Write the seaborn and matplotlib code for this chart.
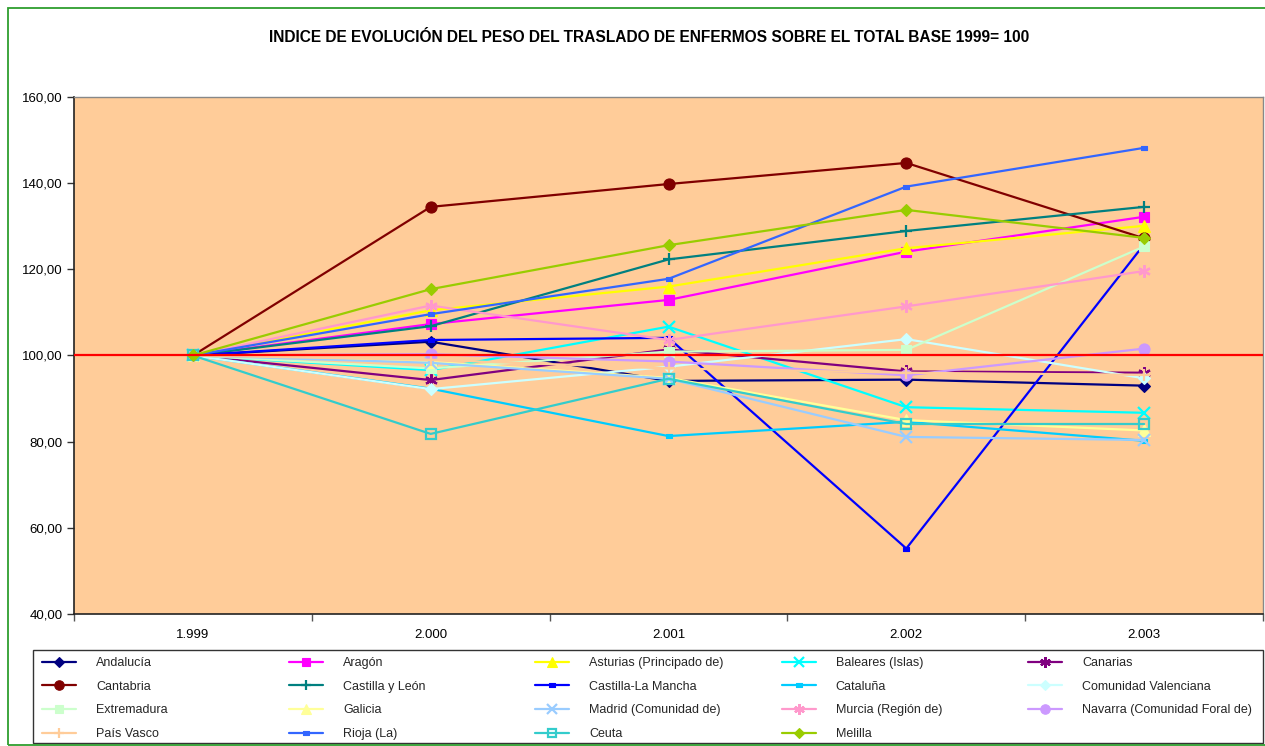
import numpy as np
import pandas as pd
import matplotlib
matplotlib.use("Agg")
import matplotlib.pyplot as plt
import seaborn as sns
from matplotlib.ticker import FixedLocator, FuncFormatter
from matplotlib.lines import Line2D
from matplotlib.patches import Rectangle

# ---------------- data ----------------
years = ["1.999", "2.000", "2.001", "2.002", "2.003"]

andalucia = [100, 103.2, 94.1, 94.4, 93.0]
aragon = [100, 107.3, 112.9, 124.1, 132.2]
asturias = [100, 110.5, 116.0, 124.9, 130.1]
baleares = [100, 96.6, 106.7, 88.0, 86.7]
canarias = [100, 94.3, 101.4, 96.3, 96.0]
cantabria = [100, 134.5, 139.8, 144.7, 127.2]
castilla_leon = [100, 106.8, 122.3, 128.9, 134.5]
castilla_mancha = [100, 103.6, 104.1, 55.2, 125.8]
cataluna = [100, 92.3, 81.3, 84.6, 80.2]
valenciana = [100, 92.2, 97.4, 103.8, 94.7]
extremadura = [100, 97.0, 100.9, 101.3, 125.3]
galicia = [100, 98.5, 94.8, 85.0, 82.6]
madrid = [100, 98.3, 94.6, 81.1, 80.4]
murcia = [100, 111.6, 103.6, 111.4, 119.6]
navarra = [100, 100.3, 98.6, 95.4, 101.6]
pais_vasco = [100, 99.0, 97.0, 96.0, 95.5]
rioja = [100, 109.6, 117.8, 139.2, 148.2]
ceuta = [100, 81.8, 94.6, 84.1, 84.1]
melilla = [100, 115.4, 125.6, 133.8, 127.3]

regions = ["Andalucía", "Aragón", "Asturias (Principado de)", "Baleares (Islas)", "Canarias",
           "Cantabria", "Castilla y León", "Castilla-La Mancha", "Cataluña", "Comunidad Valenciana",
           "Extremadura", "Galicia", "Madrid (Comunidad de)", "Murcia (Región de)",
           "Navarra (Comunidad Foral de)", "País Vasco", "Rioja (La)", "Ceuta", "Melilla"]
values = [andalucia, aragon, asturias, baleares, canarias, cantabria, castilla_leon,
          castilla_mancha, cataluna, valenciana, extremadura, galicia, madrid, murcia,
          navarra, pais_vasco, rioja, ceuta, melilla]

y_ticks = [40, 60, 80, 100, 120, 140, 160]
base_value = 100
title = "INDICE DE EVOLUCIÓN DEL PESO DEL TRASLADO DE ENFERMOS SOBRE EL TOTAL BASE 1999= 100"

# ---------------- styles ----------------
dash_marker = [(-1, -0.55), (1, -0.55), (1, 0.55), (-1, 0.55), (-1, -0.55)]
star6 = (6, 2, 0)
styles = {
    "Andalucía": ("#000080", "D", 6, True),
    "Aragón": ("#FF00FF", "s", 7, True),
    "Asturias (Principado de)": ("#FFFF00", "^", 8, True),
    "Baleares (Islas)": ("#00FFFF", "x", 8, True),
    "Canarias": ("#800080", star6, 9, True),
    "Cantabria": ("#800000", "o", 8, True),
    "Castilla y León": ("#008080", "+", 9, True),
    "Castilla-La Mancha": ("#0000FF", dash_marker, 5, True),
    "Cataluña": ("#00CCFF", dash_marker, 5, True),
    "Comunidad Valenciana": ("#CCFFFF", "D", 6, True),
    "Extremadura": ("#CCFFCC", "s", 7, True),
    "Galicia": ("#FFFF99", "^", 8, True),
    "Madrid (Comunidad de)": ("#99CCFF", "x", 8, True),
    "Murcia (Región de)": ("#FF99CC", star6, 9, True),
    "Navarra (Comunidad Foral de)": ("#CC99FF", "o", 8, True),
    "País Vasco": ("#FFCC99", "+", 9, True),
    "Rioja (La)": ("#3366FF", dash_marker, 5, True),
    "Ceuta": ("#33CCCC", "s", 7, False),
    "Melilla": ("#99CC00", "D", 6, True),
}

sns.set_theme(style="white")
plt.rcParams["font.family"] = ["Liberation Sans", "DejaVu Sans"]

W, H = 1265, 746
fig = plt.figure(figsize=(W / 100, H / 100), dpi=100)
fig.patch.set_facecolor("white")
ax = fig.add_axes([74 / W, 1 - 614 / H, (1263 - 74) / W, (614 - 97) / H])
ax.set_facecolor("#FFCC99")

x_pos = np.arange(len(years))
handles = {}
for name, vals in zip(regions, values):
    color, marker, ms, filled = styles[name]
    mew = 1.6 if (marker in ("x", "+") or marker == star6 or not filled) else 0.8
    df = pd.DataFrame({"x": x_pos, "y": vals})
    sns.lineplot(data=df, x="x", y="y", ax=ax, color=color, lw=1.6,
                 marker=marker, markersize=ms,
                 markerfacecolor=color if filled else "none",
                 markeredgecolor=color, markeredgewidth=mew,
                 legend=False, zorder=3)
    handles[name] = Line2D([0], [0], color=color, lw=1.6, marker=marker, markersize=ms * 0.85,
                           markerfacecolor=color if filled else "none", markeredgecolor=color,
                           markeredgewidth=mew)

ax.axhline(base_value, color="#FF0000", lw=1.6, zorder=4)

ax.set_xlim(-0.5, len(years) - 0.5)
ax.set_ylim(min(y_ticks), max(y_ticks))
ax.set_xticks(x_pos)
ax.set_xticklabels(years)
ax.xaxis.set_minor_locator(FixedLocator(np.arange(-0.5, len(years), 1.0)))
ax.tick_params(axis="x", which="major", length=0, pad=11, labelsize=9.5, colors="black")
ax.tick_params(axis="x", which="minor", length=5, width=1, color="#555555", direction="out", bottom=True)
ax.set_yticks(y_ticks)
ax.yaxis.set_major_formatter(FuncFormatter(lambda v, p: f"{v:.2f}".replace(".", ",")))
ax.tick_params(axis="y", which="major", length=5, width=1, color="#333333", direction="out",
               left=True, labelsize=9.5, pad=3, colors="black")
ax.set_xlabel("")
ax.set_ylabel("")
for side in ["left", "bottom"]:
    ax.spines[side].set_color("#222222")
    ax.spines[side].set_linewidth(1.2)
for side in ["top", "right"]:
    ax.spines[side].set_color("#888888")
    ax.spines[side].set_linewidth(1.0)

fig.text(649 / W, 1 - 37 / H, title, ha="center", va="center", fontsize=11.2,
         fontweight="bold", color="black")

# outer green border
fig.patches.append(Rectangle((8 / W, 1 - 745 / H), 1.2, (745 - 8) / H, transform=fig.transFigure,
                             fill=False, edgecolor="#2E9E2E", lw=1.3))

# legend frame
fig.patches.append(Rectangle((33 / W, 1 - 743 / H), (1263 - 33) / W, (743 - 650) / H,
                             transform=fig.transFigure, facecolor="white",
                             edgecolor="#333333", lw=1.0, zorder=0))

# legend: 5 equal-width columns, row-major order
ncol = 5
nrow = int(np.ceil(len(regions) / ncol))
col_left = 42
col_width = 246.5
for c in range(ncol):
    names = [regions[r * ncol + c] for r in range(nrow) if r * ncol + c < len(regions)]
    leg = fig.legend([handles[n] for n in names], names, loc="upper left",
                     bbox_to_anchor=((col_left + c * col_width) / W, 1 - 657 / H),
                     frameon=False, fontsize=9.0, handlelength=2.75, handletextpad=1.6,
                     labelspacing=0.93, borderpad=0, borderaxespad=0)

fig.savefig("out.png", dpi=100)
